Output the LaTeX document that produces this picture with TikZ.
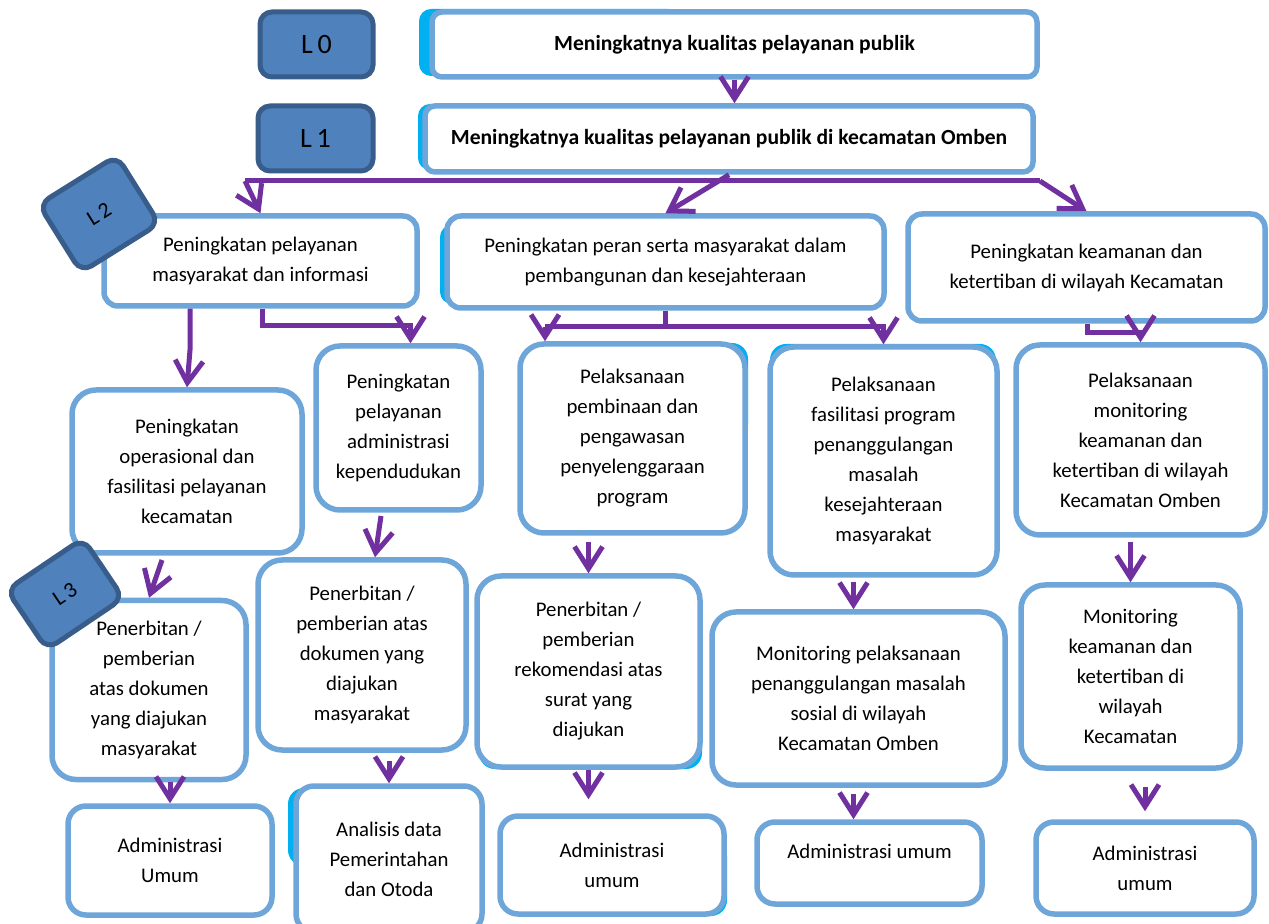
\documentclass[tikz,border=0pt]{standalone}
\usepackage{fontspec}
\setmainfont{Carlito}
\usetikzlibrary{arrows.meta}
\definecolor{boxblue}{RGB}{111,166,218}
\definecolor{levelfill}{RGB}{79,129,189}
\definecolor{leveldraw}{RGB}{56,93,138}
\definecolor{flowpurple}{RGB}{112,48,160}
\definecolor{backcyan}{RGB}{0,176,240}

\begin{document}
\begin{tikzpicture}[x=0.5pt, y=-0.5pt, >={Straight Barb[length=11pt,width=14pt]},
  box/.style={draw=boxblue, line width=2.75pt, fill=white, rounded corners=12pt,
    align=center, inner sep=2pt, font=\fontsize{10.4}{15}\selectfont},
  goalbox/.style={box, rounded corners=5pt, font=\bfseries\fontsize{10.8}{12}\selectfont},
  levelbox/.style={draw=leveldraw, fill=levelfill, line width=2.5pt, rounded corners=6pt,
    font=\fontsize{14}{16}\selectfont},
  flow/.style={draw=flowpurple, line width=2.5pt, ->},
  link/.style={draw=flowpurple, line width=2.5pt}]

  % Page
  \path[use as bounding box, fill=white] (0,0) rectangle (1269,924);

  % Cyan backing shapes
  \fill[backcyan, rounded corners=6pt] (419,9) rectangle (680,76);
  \fill[backcyan, rounded corners=6pt] (418,104) rectangle (520,170);
  \fill[backcyan, rounded corners=6pt] (440,225) rectangle (600,304);
  \fill[backcyan, rounded corners=8pt] (528,343) rectangle (748,440);
  \fill[backcyan, rounded corners=8pt] (770,344) rectangle (996,420);
  \fill[backcyan, rounded corners=8pt] (1020,343) rectangle (1200,420);
  \fill[backcyan, rounded corners=8pt] (479,640) rectangle (702,769);
  \fill[backcyan, rounded corners=8pt] (288,788) rectangle (400,866);
  \fill[backcyan, rounded corners=8pt] (600,840) rectangle (727,916);

  % Goals
  \node[goalbox, minimum width=302.5pt, minimum height=32.5pt] (goal0) at (734.5,44.5)
    {Meningkatnya kualitas pelayanan publik};
  \node[goalbox, minimum width=304pt, minimum height=33pt] (goal1) at (729,139)
    {Meningkatnya kualitas pelayanan publik di kecamatan Omben};

  % Programs
  \node[box, rounded corners=7pt, minimum width=156.5pt, minimum height=45pt] (progA) at (260.5,261)
    {Peningkatan pelayanan\\masyarakat dan informasi};
  \node[box, rounded corners=7pt, minimum width=218.5pt, minimum height=46pt] (progB) at (665.5,262)
    {Peningkatan peran serta masyarakat dalam\\pembangunan dan kesejahteraan};
  \node[box, rounded corners=7pt, minimum width=178.5pt, minimum height=53.5pt] (progC) at (1086.5,267.5)
    {Peningkatan keamanan dan\\ketertiban di wilayah Kecamatan};

  % Activities
  \node[box, minimum width=115pt, minimum height=81.5pt] (actD) at (187,471.5)
    {Peningkatan\\operasional dan\\fasilitasi pelayanan\\kecamatan};
  \node[box, minimum width=82.5pt, minimum height=82pt] (actE) at (398.5,428)
    {Peningkatan\\pelayanan\\administrasi\\kependudukan};
  \node[box, minimum width=112.5pt, minimum height=94.5pt] (actF) at (632.5,438.5)
    {Pelaksanaan\\pembinaan dan\\pengawasan\\penyelenggaraan\\program};
  \node[box, minimum width=113.5pt, minimum height=114pt] (actG) at (883.5,461)
    {Pelaksanaan\\fasilitasi program\\penanggulangan\\masalah\\kesejahteraan\\masyarakat};
  \node[box, minimum width=124.5pt, minimum height=95pt] (actH) at (1140.5,440)
    {Pelaksanaan\\monitoring\\keamanan dan\\ketertiban di wilayah\\Kecamatan Omben};

  % Outputs
  \node[box, minimum width=97pt, minimum height=89.5pt] (outI) at (149,690)
    {Penerbitan /\\pemberian\\atas dokumen\\yang diajukan\\masyarakat};
  \node[box, minimum width=104pt, minimum height=95pt] (outJ) at (362,655)
    {Penerbitan /\\pemberian atas\\dokumen yang\\diajukan\\masyarakat};
  \node[box, minimum width=111.5pt, minimum height=95.5pt] (outK) at (588.5,671.5)
    {Penerbitan /\\pemberian\\rekomendasi atas\\surat yang\\diajukan};
  \node[box, minimum width=146.5pt, minimum height=86.5pt] (outL) at (858.5,698.5)
    {Monitoring pelaksanaan\\penanggulangan masalah\\sosial di wilayah\\Kecamatan Omben};
  \node[box, minimum width=109.5pt, minimum height=91.5pt] (outM) at (1130.5,676.5)
    {Monitoring\\keamanan dan\\ketertiban di\\wilayah\\Kecamatan};

  % Units
  \node[box, rounded corners=9pt, minimum width=102pt, minimum height=54.5pt] (unitN) at (170,860.5)
    {Administrasi\\Umum};
  \node[box, rounded corners=9pt, minimum width=93pt, minimum height=73pt] (unitO) at (389,859)
    {Analisis data\\Pemerintahan\\dan Otoda};
  \node[box, rounded corners=9pt, minimum width=112pt, minimum height=49pt] (unitP) at (612,865)
    {Administrasi\\umum};
  \node[box, rounded corners=9pt, minimum width=112.5pt, minimum height=41pt, text depth=12pt] (unitQ) at (869.5,863)
    {Administrasi umum};
  \node[box, rounded corners=9pt, minimum width=109pt, minimum height=46pt] (unitR) at (1145,868)
    {Administrasi\\umum};

  % Level tags
  \node[levelbox, minimum width=56.5pt, minimum height=32.5pt] (lev0) at (316.5,44.5) {L\,0};
  \node[levelbox, minimum width=57.5pt, minimum height=32.5pt] (lev1) at (315.5,138.5) {L\,1};
  \node[levelbox, rotate=32, minimum width=46pt, minimum height=40pt, font=\fontsize{11}{13}\selectfont] (lev2) at (99,214) {L\,2};
  \node[levelbox, rotate=34, minimum width=46pt, minimum height=36pt, font=\fontsize{11}{13}\selectfont] (lev3) at (65,594) {L\,3};

  % Connectors, top
  \coordinate (trunkL) at (245,181);
  \coordinate (trunkR) at (1040,181);
  \draw[flow] (goal0.south) -- (goal0.south |- goal1.north);
  \draw[link] (trunkL) -- (trunkR);
  \draw[flow] (trunkL) -- (progA.north);
  \draw[flow] (trunkR) -- (progC.north);
  \draw[flow] (goal1.south) -- (progB.north);

  % Connectors, programs to activities
  \coordinate (splitA) at (190,350);
  \coordinate (turnA) at (262,326);
  \coordinate (turnB) at (665,327);
  \coordinate (endB) at (545,327);
  \coordinate (turnC) at (1087,333);
  \draw[flow] (progA.south -| splitA) -- (splitA) -- (actD.north);
  \draw[flow] (progA.south -| turnA) -- (turnA) -| ([xshift=6pt]actE.north);
  \draw[link] (progB.south -| turnB) -- (turnB) -- (endB);
  \draw[flow] (endB) -- (actF.north -| endB);
  \draw[flow] (turnB) -| (actG.north);
  \draw[flow] (progC.south -| turnC) -- (turnC) -| (actH.north);

  % Connectors, activities to outputs
  \coordinate (tailD) at (162,560);
  \coordinate (tailE) at (381,516);
  \draw[flow] (tailD) -- (outI.north);
  \draw[flow] (tailE) -- ([xshift=6.5pt]outJ.north);
  \draw[flow, shorten <=3pt] (actF.south -| outK.north) -- (outK.north);
  \draw[flow, shorten <=2pt] ([xshift=-2.5pt]actG.south -| outL.north) -- ([xshift=-2.5pt]outL.north);
  \draw[flow, shorten <=2pt] (actH.south -| outM.north) -- (outM.north);

  % Connectors, outputs to units
  \draw[flow] (outI.south -| unitN.north) -- (unitN.north);
  \draw[flow, shorten <=4pt] (outJ.south -| unitO.north) -- (unitO.north);
  \draw[flow, shorten >=7pt] (outK.south) -- (outK.south |- unitP.north);
  \draw[flow, shorten <=3pt] ([xshift=-2.5pt]outL.south) -- ([xshift=-2.5pt]outL.south |- unitQ.north);
  \draw[flow, shorten <=8pt, shorten >=4pt] (outM.south -| unitR.north) -- (unitR.north);
\end{tikzpicture}
\end{document}
